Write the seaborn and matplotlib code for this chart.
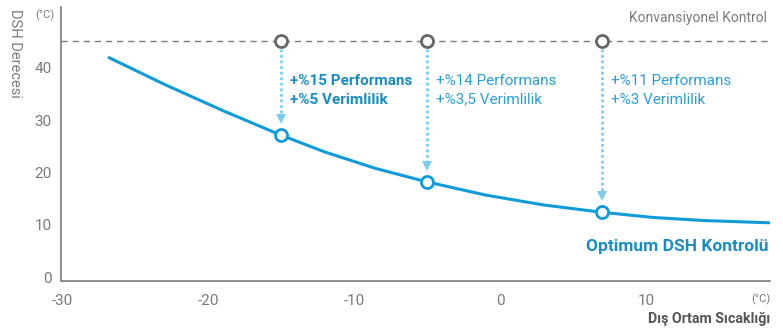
import matplotlib
matplotlib.use("Agg")
import matplotlib.pyplot as plt
import seaborn as sns
import pandas as pd

# Optimum DSH control curve (outdoor temperature vs. DSH degree)
curve_temp = [-26.8, -23.0, -19.0, -15.0, -12.0, -8.5, -5.0, -1.0, 3.0, 7.0, 10.5, 14.0, 18.5]
curve_dsh = [41.9, 36.8, 31.8, 27.1, 23.9, 20.75, 18.2, 15.7, 13.8, 12.4, 11.42, 10.83, 10.4]

# Comparison points
point_temp = [-15, -5, 7]
point_dsh = [27.1, 18.2, 12.4]
conventional_dsh = 45

perf_labels = ["+%15 Performans", "+%14 Performans", "+%11 Performans"]
eff_labels = ["+%5 Verimlilik", "+%3,5 Verimlilik", "+%3 Verimlilik"]

x_ticks = [-30, -20, -10, 0, 10]
y_ticks = [0, 10, 20, 30, 40]

BLUE = "#0e9bd8"
TEXT_BLUE = "#1a8cc4"
LIGHT_BLUE = "#7dcdf2"
GREY = "#7a7a7a"
DARK_GREY = "#555555"

sns.set_theme(style="white")
plt.rcParams["font.family"] = ["Roboto", "DejaVu Sans"]

fig = plt.figure(figsize=(7.83, 3.31), dpi=100)
ax = fig.add_axes([0.0783, 0.151, 0.905, 0.827])

curve = pd.DataFrame({"temp": curve_temp, "dsh": curve_dsh})
points = pd.DataFrame({"temp": point_temp, "dsh": point_dsh})
conv = pd.DataFrame({"temp": point_temp, "dsh": [conventional_dsh] * len(point_temp)})

# conventional control reference line
ax.axhline(conventional_dsh, color=GREY, lw=1.0, ls=(0, (4.5, 3.5)), zorder=1)

sns.lineplot(data=curve, x="temp", y="dsh", ax=ax, color=BLUE, lw=2.2, zorder=3)

# dotted arrows from conventional to optimum points
for t, d in zip(point_temp, point_dsh):
    ax.plot([t, t], [conventional_dsh - 1.4, d + 3.9], color=LIGHT_BLUE,
            lw=2.0, ls=(0, (1, 1)), zorder=2)
    ax.plot([t], [d + 3.1], marker="v", color=LIGHT_BLUE, markersize=7,
            markeredgewidth=0, zorder=2)

sns.scatterplot(data=conv, x="temp", y="dsh", ax=ax, s=75, facecolor="white",
                edgecolor="#666666", linewidth=2.0, zorder=4)
sns.scatterplot(data=points, x="temp", y="dsh", ax=ax, s=75, facecolor="white",
                edgecolor=BLUE, linewidth=2.0, zorder=4)

# annotations
for i, (t, p, e) in enumerate(zip(point_temp, perf_labels, eff_labels)):
    weight = "bold" if i == 0 else "normal"
    color = TEXT_BLUE if i == 0 else "#2a9fd3"
    ax.text(t + 0.6, 37.5, p, color=color, fontsize=11, fontweight=weight,
            ha="left", va="center")
    ax.text(t + 0.6, 33.9, e, color=color, fontsize=11, fontweight=weight,
            ha="left", va="center")

ax.text(18.3, 49.4, "Konvansiyonel Kontrol", color=GREY, fontsize=10,
        ha="right", va="center")
ax.text(18.4, 5.8, "Optimum DSH Kontrolü", color=TEXT_BLUE, fontsize=12.5,
        fontweight="bold", ha="right", va="center")

ax.set_xlim(-30.07, 18.5)
ax.set_ylim(-0.7, 51.5)
ax.set_xticks(x_ticks)
ax.set_yticks(y_ticks)
ax.set_xticklabels([str(v) for v in x_ticks])
ax.set_yticklabels([str(v) for v in y_ticks])
ax.tick_params(axis="both", length=0, labelsize=11, colors=GREY)
ax.tick_params(axis="x", pad=9)
ax.tick_params(axis="y", pad=7)
ax.set_xlabel("")
ax.set_ylabel("")

sns.despine(ax=ax)
for side in ("left", "bottom"):
    ax.spines[side].set_color(GREY)
    ax.spines[side].set_linewidth(1.2)

# axis titles and units
fig.text(45 / 783, 1 - 15 / 331, "(°C)", color=GREY, fontsize=8, ha="center", va="center")
fig.text(15 / 783, 1 - 9 / 331, "DSH Derecesi", color=GREY, fontsize=10.5,
         rotation=270, ha="center", va="top")
fig.text(770 / 783, 1 - 299 / 331, "(°C)", color=GREY, fontsize=8, ha="right", va="center")
fig.text(770 / 783, 1 - 319 / 331, "Dış Ortam Sıcaklığı", color=DARK_GREY, fontsize=10.3,
         fontweight="bold", ha="right", va="center")

fig.savefig("out.png", dpi=100)
